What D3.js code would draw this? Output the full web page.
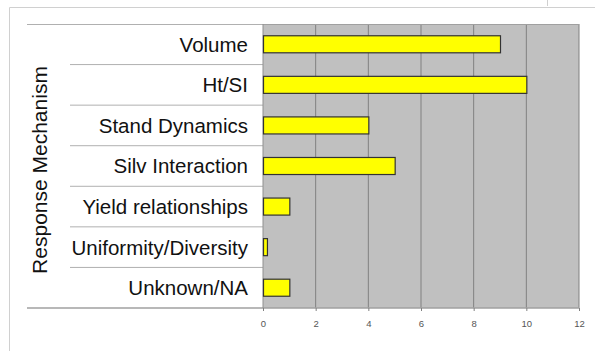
<!DOCTYPE html>
<html><head><meta charset="utf-8">
<script src="https://cdn.jsdelivr.net/npm/d3@7"></script>
<style>html,body{margin:0;padding:0;background:#fff;}svg{display:block;}</style>
</head><body>
<script>
const categories = ["Volume","Ht/SI","Stand Dynamics","Silv Interaction","Yield relationships","Uniformity/Diversity","Unknown/NA"];
const values = [9, 10, 4, 5, 1, 0.15, 1];
const tickValues = [0,2,4,6,8,10,12];
const axisTitle = "Response Mechanism";

const W = 595, H = 351;
const svg = d3.select("body").append("svg").attr("width", W).attr("height", H);

// outer frame
svg.append("line").attr("x1",9.5).attr("x2",W).attr("y1",7.5).attr("y2",7.5).attr("stroke","#d0d0d0");
svg.append("line").attr("x1",9.5).attr("x2",9.5).attr("y1",7.5).attr("y2",H).attr("stroke","#d0d0d0");
svg.append("line").attr("x1",547.5).attr("x2",547.5).attr("y1",0).attr("y2",6).attr("stroke","#d0d0d0");

const L = 263, R = 579, T = 24, B = 308;
const x = d3.scaleLinear().domain([0,12]).range([L,R]);
const y = d3.scaleBand().domain(categories).range([T,B]).paddingInner(0.58).paddingOuter(0.29);
const band = d3.scaleBand().domain(categories).range([T,B]);

// plot background
svg.append("rect").attr("x",L).attr("y",T).attr("width",R-L).attr("height",B-T).attr("fill","#c0c0c0");
// gridlines
svg.selectAll("line.grid").data(tickValues.slice(1)).enter().append("line")
  .attr("x1",d=>x(d)).attr("x2",d=>x(d)).attr("y1",T).attr("y2",B)
  .attr("stroke","#808080").attr("stroke-width",1);
svg.append("line").attr("x1",L).attr("x2",R).attr("y1",T+0.5).attr("y2",T+0.5).attr("stroke","#a0a0a0");

// category separator lines
categories.forEach((c,i)=>{
  if(i===0) return;
  svg.append("line").attr("x1",70).attr("x2",L).attr("y1",band(c)).attr("y2",band(c)).attr("stroke","#b0b0b0");
});
svg.append("line").attr("x1",27).attr("x2",L).attr("y1",T+0.5).attr("y2",T+0.5).attr("stroke","#b0b0b0");
svg.append("line").attr("x1",27).attr("x2",R).attr("y1",B).attr("y2",B).attr("stroke","#a0a0a0").attr("stroke-width",1.5);
svg.append("line").attr("x1",L).attr("x2",L).attr("y1",T).attr("y2",B).attr("stroke","#909090");

// bars
svg.selectAll("rect.bar").data(values).enter().append("rect")
  .attr("x",x(0)+0.5).attr("y",(d,i)=>y(categories[i]))
  .attr("width",d=>x(d)-x(0)).attr("height",y.bandwidth())
  .attr("fill","#ffff00").attr("stroke","#333").attr("stroke-width",1.2);

// category labels
svg.selectAll("text.cat").data(categories).enter().append("text")
  .attr("x",248).attr("y",d=>band(d)+band.bandwidth()/2).attr("dy","0.36em")
  .attr("text-anchor","end").attr("font-family","Liberation Sans, Arial, sans-serif")
  .attr("font-size",20.5).attr("fill","#111").text(d=>d);

// x axis
const ax = svg.append("g").attr("transform",`translate(0,${B})`)
  .call(d3.axisBottom(x).tickValues(tickValues).tickSize(3).tickPadding(9));
ax.select(".domain").remove();
ax.selectAll("line").attr("stroke","#808080");
ax.selectAll("text").attr("font-family","Liberation Sans, Arial, sans-serif").attr("font-size",9.5).attr("fill","#555");

// axis title
svg.append("text").attr("transform",`translate(47,${(T+B)/2+4}) rotate(-90)`)
  .attr("text-anchor","middle").attr("font-family","Liberation Sans, Arial, sans-serif")
  .attr("font-size",21).attr("fill","#111").text(axisTitle);
</script>
</body></html>
